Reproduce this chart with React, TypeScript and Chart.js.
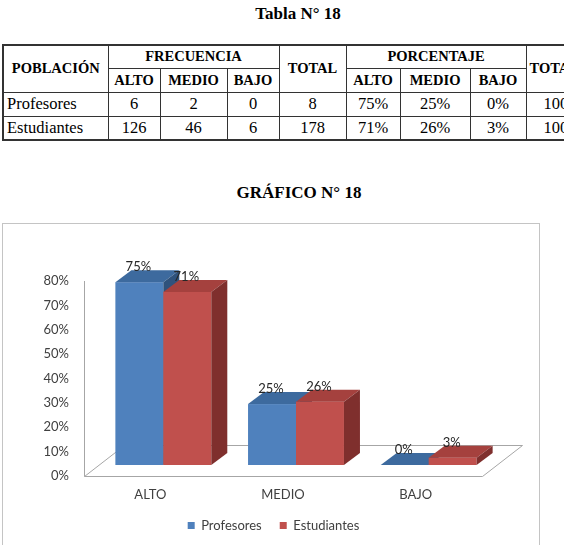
import React, { useEffect, useRef } from 'react';
import { Chart, registerables } from 'chart.js';

Chart.register(...registerables);

// ---------- data ----------
const categories = ['ALTO', 'MEDIO', 'BAJO'];
const seriesNames = ['Profesores', 'Estudiantes'];
const profesoresPct = [75, 25, 0];
const estudiantesPct = [71, 26, 3];
const yMin = 0;
const yMax = 80;
const yStep = 10;

// table data
const tableLevels = ['ALTO', 'MEDIO', 'BAJO'];
const tableRowNames = ['Profesores', 'Estudiantes'];
const freqProfesores = [6, 2, 0];
const freqEstudiantes = [126, 46, 6];
const totalFreq = [8, 178];
const pctProfesores = ['75%', '25%', '0%'];
const pctEstudiantes = ['71%', '26%', '3%'];
const totalPct = ['100%', '100%'];

// ---------- styles ----------
const FRONT_OFF = { x: 13, y: -11 };
const DEPTH = { x: 16, y: -12 };
const FLOOR = { x: 40, y: -31 };
const faces = [
  { front: '#4F81BD', top: '#3D6A9E', side: '#2F527C' },
  { front: '#C0504D', top: '#A5413E', side: '#7F2F2D' },
];
const CHART_FONT = 'Lato';
const TEXT_COLOR = '#404040';

const bar3d = {
  id: 'bar3d',
  beforeDatasetsDraw(chart: any) {
    const ctx = chart.ctx as CanvasRenderingContext2D;
    const a = chart.chartArea;
    ctx.save();
    // floor
    ctx.strokeStyle = '#a6a6a6';
    ctx.lineWidth = 1;
    ctx.beginPath();
    ctx.moveTo(a.left + 0.5, a.bottom + 0.5);
    ctx.lineTo(a.right + 0.5, a.bottom + 0.5);
    ctx.lineTo(a.right + FLOOR.x + 0.5, a.bottom + FLOOR.y + 0.5);
    ctx.lineTo(a.left + FLOOR.x + 0.5, a.bottom + FLOOR.y + 0.5);
    ctx.closePath();
    ctx.stroke();
    // vertical axis line
    ctx.beginPath();
    ctx.moveTo(a.left + 0.5, a.top);
    ctx.lineTo(a.left + 0.5, a.bottom + 0.5);
    ctx.stroke();

    const metas = chart.data.datasets.map((_: any, i: number) => chart.getDatasetMeta(i));
    const n = chart.data.labels.length;
    const labels: { x: number; y: number; text: string }[] = [];
    for (let j = 0; j < n; j++) {
      for (let i = 0; i < metas.length; i++) {
        const el = metas[i].data[j];
        const { x, y, base, width } = el.getProps(['x', 'y', 'base', 'width'], true);
        const f = faces[i];
        const l = x - width / 2 + FRONT_OFF.x;
        const r = x + width / 2 + FRONT_OFF.x;
        const t = y + FRONT_OFF.y;
        const b = base + FRONT_OFF.y;
        // front
        ctx.fillStyle = f.front;
        ctx.fillRect(l, t, r - l, b - t);
        // top
        ctx.fillStyle = f.top;
        ctx.beginPath();
        ctx.moveTo(l, t);
        ctx.lineTo(r, t);
        ctx.lineTo(r + DEPTH.x, t + DEPTH.y);
        ctx.lineTo(l + DEPTH.x, t + DEPTH.y);
        ctx.closePath();
        ctx.fill();
        // side
        ctx.fillStyle = f.side;
        ctx.beginPath();
        ctx.moveTo(r, t);
        ctx.lineTo(r, b);
        ctx.lineTo(r + DEPTH.x, b + DEPTH.y);
        ctx.lineTo(r + DEPTH.x, t + DEPTH.y);
        ctx.closePath();
        ctx.fill();
        const v = chart.data.datasets[i].data[j];
        labels.push({ x: x + FRONT_OFF.x - 1, y: t - 15, text: `${v}%` });
      }
    }
    ctx.fillStyle = '#262626';
    ctx.font = `13px ${CHART_FONT}`;
    ctx.textAlign = 'center';
    ctx.textBaseline = 'middle';
    labels.forEach((lb) => ctx.fillText(lb.text, lb.x, lb.y));
    ctx.restore();
    return false;
  },
};

const serif = '"Liberation Serif", "Times New Roman", serif';
const colWidths = [105, 52, 67, 52, 67, 54, 70, 56, 70];
const B = '1px solid #333';

const th: React.CSSProperties = {
  border: B,
  padding: 0,
  textAlign: 'center',
  verticalAlign: 'middle',
  fontFamily: serif,
  fontWeight: 'bold',
  fontSize: 14.5,
  color: '#000',
  overflow: 'hidden',
  whiteSpace: 'nowrap',
};
const td: React.CSSProperties = {
  border: B,
  padding: 0,
  textAlign: 'center',
  verticalAlign: 'middle',
  fontFamily: serif,
  fontSize: 16.5,
  color: '#000',
  overflow: 'hidden',
  whiteSpace: 'nowrap',
};

export default function App() {
  const ref = useRef<HTMLCanvasElement>(null);
  useEffect(() => {
    const chart = new Chart(ref.current as HTMLCanvasElement, {
      type: 'bar',
      data: {
        labels: categories,
        datasets: [
          { label: seriesNames[0], data: profesoresPct, backgroundColor: faces[0].front, borderWidth: 0 },
          { label: seriesNames[1], data: estudiantesPct, backgroundColor: faces[1].front, borderWidth: 0 },
        ],
      },
      options: {
        responsive: false,
        animation: false,
        devicePixelRatio: 1,
        layout: { padding: { top: 58, left: 0, right: 17, bottom: 3 } },
        datasets: { bar: { barPercentage: 1, categoryPercentage: 0.723 } },
        scales: {
          x: {
            grid: { display: false, drawTicks: false },
            border: { display: false },
            ticks: { padding: 11, color: TEXT_COLOR, font: { family: CHART_FONT, size: 13 } },
            afterFit: (s: any) => { s.height = 25; },
          },
          y: {
            min: yMin,
            max: yMax,
            grid: { display: false, drawTicks: false },
            border: { display: false },
            ticks: {
              stepSize: yStep,
              padding: 15,
              color: TEXT_COLOR,
              font: { family: CHART_FONT, size: 13 },
              callback: (v: any) => `${v}%`,
            },
            afterFit: (s: any) => { s.width = 84; },
          },
          yR: {
            position: 'right',
            display: true,
            grid: { display: false, drawTicks: false },
            border: { display: false },
            ticks: { display: false },
            afterFit: (s: any) => { s.width = 65; },
          },
        },
        plugins: {
          legend: {
            position: 'bottom',
            labels: {
              boxWidth: 7,
              boxHeight: 7,
              padding: 18,
              color: TEXT_COLOR,
              font: { family: CHART_FONT, size: 13 },
            },
          },
          tooltip: { enabled: false },
        },
      } as any,
      plugins: [bar3d],
    });
    return () => chart.destroy();
  }, []);

  const bodyRows = [
    { name: tableRowNames[0], freq: freqProfesores, total: totalFreq[0], pct: pctProfesores, tp: totalPct[0] },
    { name: tableRowNames[1], freq: freqEstudiantes, total: totalFreq[1], pct: pctEstudiantes, tp: totalPct[1] },
  ];

  return (
    <div style={{ position: 'fixed', left: 0, top: 0, width: 564, height: 545, overflow: 'hidden', background: '#fff' }}>
      <div style={{ position: 'absolute', left: 198, top: 4, width: 200, textAlign: 'center', fontFamily: serif, fontWeight: 'bold', fontSize: 17, lineHeight: '20px', color: '#000' }}>
        Tabla N° 18
      </div>
      <table
        style={{
          position: 'absolute',
          left: 2,
          top: 44,
          borderCollapse: 'collapse',
          tableLayout: 'fixed',
          width: colWidths.reduce((s, w) => s + w, 0),
          border: '2px solid #333',
        }}
      >
        <colgroup>
          {colWidths.map((w, i) => (
            <col key={i} style={{ width: w }} />
          ))}
        </colgroup>
        <tbody>
          <tr style={{ height: 23 }}>
            <td style={th} rowSpan={2}>POBLACIÓN</td>
            <td style={th} colSpan={3}>FRECUENCIA</td>
            <td style={th} rowSpan={2}>TOTAL</td>
            <td style={th} colSpan={3}>PORCENTAJE</td>
            <td style={{ ...th, textAlign: 'left', paddingLeft: 3 }} rowSpan={2}>TOTAL</td>
          </tr>
          <tr style={{ height: 24 }}>
            {tableLevels.map((l) => (
              <td key={'f' + l} style={th}>{l}</td>
            ))}
            {tableLevels.map((l) => (
              <td key={'p' + l} style={th}>{l}</td>
            ))}
          </tr>
          {bodyRows.map((r) => (
            <tr key={r.name} style={{ height: 24 }}>
              <td style={{ ...td, textAlign: 'left', paddingLeft: 3 }}>{r.name}</td>
              {r.freq.map((v, i) => (
                <td key={'f' + i} style={td}>{v}</td>
              ))}
              <td style={td}>{r.total}</td>
              {r.pct.map((v, i) => (
                <td key={'p' + i} style={td}>{v}</td>
              ))}
              <td style={{ ...td, textAlign: 'left', paddingLeft: 17 }}>{r.tp}</td>
            </tr>
          ))}
        </tbody>
      </table>
      <div style={{ position: 'absolute', left: 199, top: 183, width: 200, textAlign: 'center', fontFamily: serif, fontWeight: 'bold', fontSize: 17, lineHeight: '20px', color: '#000' }}>
        GRÁFICO N° 18
      </div>
      <div style={{ position: 'absolute', left: 2, top: 223, width: 538, height: 340, boxSizing: 'border-box', border: '1px solid #c4c4c4' }} />
      <canvas ref={ref} width={564} height={322} style={{ position: 'absolute', left: 0, top: 223, width: 564, height: 322 }} />
    </div>
  );
}
